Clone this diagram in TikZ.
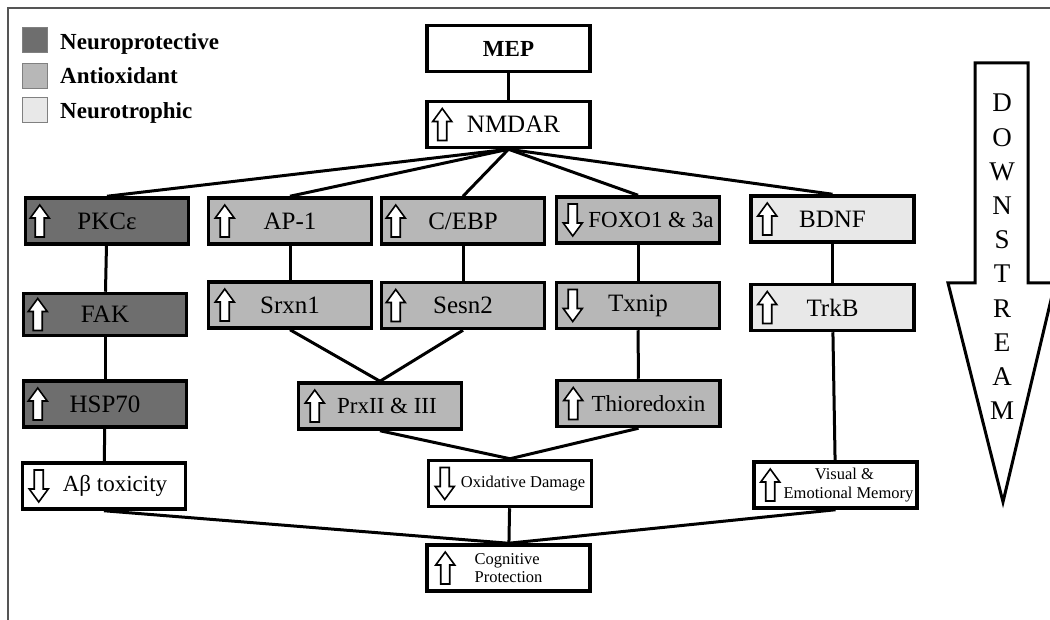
\documentclass[tikz,border=0pt]{standalone}
\usepackage{fontspec}
\setmainfont{Liberation Serif}
\usepackage{tikz}
\definecolor{neuroprot}{HTML}{6E6E6E}
\definecolor{antiox}{HTML}{B7B7B7}
\definecolor{neurotroph}{HTML}{E8E8E8}
\definecolor{framegray}{HTML}{555555}
\tikzset{
  arrup/.pic={\draw[line width=1.6pt,fill=white] (0,-16) -- (9.5,-3) -- (4.5,-3) -- (4.5,16) -- (-4.5,16) -- (-4.5,-3) -- (-9.5,-3) -- cycle;},
  arrdn/.pic={\draw[line width=1.6pt,fill=white] (0,16) -- (9.5,3) -- (4.5,3) -- (4.5,-16) -- (-4.5,-16) -- (-4.5,3) -- (-9.5,3) -- cycle;}
}
\begin{document}
\begin{tikzpicture}[x=1pt,y=-1pt,
  box/.style={draw,line width=3.5pt,minimum width=163pt,minimum height=46pt,inner sep=2pt,font=\fontsize{25}{28}\selectfont},
  narrowtext/.style={font=\fontsize{23}{26}\selectfont},
  smallbox/.style={box,font=\fontsize{16.5}{18.5}\selectfont,align=center},
  link/.style={line width=3pt},
  legendsq/.style={draw=gray,line width=0.8pt,minimum size=25pt,inner sep=0pt},
  legendtxt/.style={anchor=base west,inner sep=0pt,font=\fontsize{23}{25}\selectfont\bfseries}]
\useasboundingbox (0,0) rectangle (1050,620);
\draw[framegray,line width=1.5pt] (8,620) -- (8,8) -- (1050,8);

\node[legendsq,fill=neuroprot]  (sq_prot)   at (34.5,40)  {};
\node[legendsq,fill=antiox]     (sq_anti)   at (34.5,75.5) {};
\node[legendsq,fill=neurotroph] (sq_troph)  at (34.5,110) {};
\node[legendtxt] (lg_prot)  at (60,50)  {Neuroprotective};
\node[legendtxt] (lg_anti)  at (60,84)  {Antioxidant};
\node[legendtxt] (lg_troph) at (60,119) {Neurotrophic};

\node[box,font=\fontsize{23}{26}\selectfont\bfseries] (n_mep)   at (508.5,48.5)  {MEP};
\node[box,font=\fontsize{25}{28}\selectfont]          (n_nmdar) at (508.5,124.5) {\hspace*{10pt}NMDAR};

\node[box,fill=neuroprot]  (n_pkc)   at (107,221)   {PKCε};
\node[box,fill=antiox]     (n_ap1)   at (290,221)   {AP-1};
\node[box,fill=antiox]     (n_cebp)  at (463,221)   {C/EBP};
\node[box,narrowtext,fill=antiox] (n_foxo) at (638,220) {\hspace*{26pt}FOXO1 \& 3a};
\node[box,fill=neurotroph] (n_bdnf)  at (832.5,219) {BDNF};

\node[box,fill=neuroprot,minimum height=42pt]  (n_fak)   at (105,314.5)   {FAK};
\node[box,fill=antiox]     (n_srxn)  at (290,305)     {Srxn1};
\node[box,fill=antiox]     (n_sesn)  at (463,305.5)   {Sesn2};
\node[box,fill=antiox]     (n_txnip) at (638,305.5)   {Txnip};
\node[box,fill=neurotroph] (n_trkb)  at (832.5,307.5) {TrkB};

\node[box,fill=neuroprot]  (n_hsp)   at (105,404)   {HSP70};
\node[box,narrowtext,fill=antiox] (n_prx)  at (380,406)     {\hspace*{14pt}PrxII \& III};
\node[box,narrowtext,fill=antiox] (n_thio) at (638.5,403.5) {\hspace*{20pt}Thioredoxin};

\node[box,narrowtext] (n_abeta)  at (104,486)   {\hspace*{22pt}Aβ toxicity};
\node[smallbox] (n_oxid)   at (510,483.5) {\hspace*{26pt}Oxidative Damage};
\node[smallbox] (n_visual) at (835.5,485) {\hspace*{18pt}Visual \&\\\hspace*{26pt}Emotional Memory};
\node[smallbox,align=left] (n_cogn) at (508.5,568) {Cognitive\\Protection};

\draw[link] (n_mep) -- (n_nmdar);
\draw[link] (n_nmdar.south) -- (n_pkc.north);
\draw[link] (n_nmdar.south) -- (n_ap1.north);
\draw[link] (n_nmdar.south) -- (n_cebp.north);
\draw[link] (n_nmdar.south) -- (n_foxo.north);
\draw[link] (n_nmdar.south) -- (n_bdnf.north);
\draw[link] (n_pkc) -- (n_fak);
\draw[link] (n_fak) -- (n_hsp);
\draw[link] (n_hsp) -- (n_abeta);
\draw[link] (n_ap1) -- (n_srxn);
\draw[link] (n_cebp) -- (n_sesn);
\draw[link] (n_foxo) -- (n_txnip);
\draw[link] (n_bdnf) -- (n_trkb);
\draw[link] (n_srxn.south) -- (n_prx.north);
\draw[link] (n_sesn.south) -- (n_prx.north);
\draw[link] (n_txnip) -- (n_thio);
\draw[link] (n_trkb) -- (n_visual);
\draw[link] (n_prx.south) -- (n_oxid.north);
\draw[link] (n_thio.south) -- (n_oxid.north);
\draw[link] (n_oxid) -- (n_cogn);
\draw[link] (n_abeta.south) -- (n_cogn.north);
\draw[link] (n_visual.south) -- (n_cogn.north);

\path (n_nmdar.west)  ++(17,0) pic {arrup};
\path (n_pkc.west)    ++(16,0) pic {arrup};
\path (n_ap1.west)    ++(18,0) pic {arrup};
\path (n_cebp.west)   ++(16,0) pic {arrup};
\path (n_foxo.west)   ++(18,0) pic {arrdn};
\path (n_bdnf.west)   ++(18,0) pic {arrup};
\path (n_fak.west)    ++(16,0) pic {arrup};
\path (n_srxn.west)   ++(18,0) pic {arrup};
\path (n_sesn.west)   ++(16,0) pic {arrup};
\path (n_txnip.west)  ++(18,0) pic {arrdn};
\path (n_trkb.west)   ++(18,0) pic {arrup};
\path (n_hsp.west)    ++(16,0) pic {arrup};
\path (n_prx.west)    ++(18,0) pic {arrup};
\path (n_thio.west)   ++(18,0) pic {arrup};
\path (n_abeta.west)  ++(18,0) pic {arrdn};
\path (n_oxid.west)   ++(18,0) pic {arrdn};
\path (n_visual.west) ++(18,0) pic {arrup};
\path (n_cogn.west)   ++(20,0) pic {arrup};

\draw[line width=3pt,fill=white,line join=miter] (975,63) -- (1028,63) -- (1028,283) -- (1055,283) -- (1003,502) -- (948,283) -- (975,283) -- cycle;
\node[align=center,font=\fontsize{27}{34.2}\selectfont] (n_downstream) at (1002,257) {D\\O\\W\\N\\S\\T\\R\\E\\A\\M};
\end{tikzpicture}
\end{document}
